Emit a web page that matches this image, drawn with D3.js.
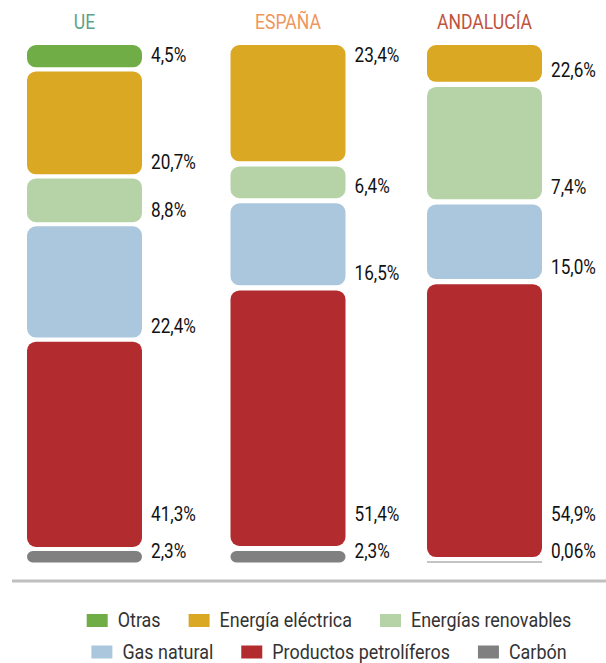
<!DOCTYPE html>
<html>
<head>
<meta charset="utf-8">
<script src="https://cdn.jsdelivr.net/npm/d3@7"></script>
<style>
  html, body { margin: 0; padding: 0; background: #fff; }
  svg { display: block; }
  text { font-family: Roboto, "Noto Sans", sans-serif; }
</style>
</head>
<body>
<svg id="chart" width="606" height="663"></svg>
<script>
// ---------- data ----------
const columns = ["UE", "ESPAÑA", "ANDALUCÍA"];
const sources = ["Otras", "Energía eléctrica", "Energías renovables", "Gas natural", "Productos petrolíferos", "Carbón"];
// drawn segment sizes (% of final energy consumption), top to bottom
const valuesUE = [4.5, 20.7, 8.8, 22.4, 41.3, 2.3];
const valuesES = [0, 23.4, 6.4, 16.5, 51.4, 2.3];
const valuesAN = [0, 7.4, 22.6, 15.0, 54.9, 0.06];
// labels as printed beside each segment
const labelsUE = ["4,5%", "20,7%", "8,8%", "22,4%", "41,3%", "2,3%"];
const labelsES = ["", "23,4%", "6,4%", "16,5%", "51,4%", "2,3%"];
const labelsAN = ["", "22,6%", "7,4%", "15,0%", "54,9%", "0,06%"];
const sourceColors = ["#70ad47", "#dba823", "#b6d3a8", "#abc7de", "#b22c2f", "#808080"];
const titleColors = ["#5ea28a", "#f0965c", "#c0533d"];
const legendRows = [[0, 1, 2], [3, 4, 5]];

const table = [valuesUE, valuesES, valuesAN];
const labelTable = [labelsUE, labelsES, labelsAN];

// ---------- layout ----------
const svg = d3.select("#chart");
const colX = d3.scaleOrdinal().domain(columns).range([27, 230.5, 427]);
const barW = 115;
const yTop = 45, yBottom = 562.5;
const hScale = d3.scaleLinear().domain([0, 100]).range([0, 497]);
const condensed = 0.88;

function ctext(g, x, y, str, opts) {
  const t = g.append("text")
    .attr("transform", `translate(${x},${y}) scale(${opts.scale || condensed},1)`)
    .attr("font-size", opts.size)
    .attr("fill", opts.fill)
    .attr("text-anchor", opts.anchor || "start")
    .text(str);
  return t;
}

columns.forEach((col, ci) => {
  const vals = table[ci];
  const labs = labelTable[ci];
  const items = sources.map((s, i) => ({ s, i, v: vals[i], lab: labs[i] })).filter(d => d.v > 0);
  const total = d3.sum(items, d => hScale(d.v));
  const gap = (yBottom - yTop - total) / (items.length - 1);
  let y = yTop;
  items.forEach(d => {
    d.y0 = y;
    d.h = hScale(d.v);
    d.y1 = y + d.h;
    y = d.y1 + gap;
  });
  const g = svg.append("g");
  const x0 = colX(col);

  // title
  ctext(g, x0 + barW / 2, 29, col, { size: 20, fill: titleColors[ci], anchor: "middle" });

  items.forEach(d => {
    if (d.h < 1.5) {
      g.append("rect").attr("x", x0).attr("y", yBottom - 1).attr("width", barW).attr("height", 1)
        .attr("fill", "#8a8a8a");
    } else {
      const r = Math.min(9, d.h / 2);
      g.append("rect").attr("x", x0).attr("y", d.y0).attr("width", barW).attr("height", d.h)
        .attr("rx", r).attr("ry", r).attr("fill", sourceColors[d.i]);
    }
  });

  // labels, placed bottom-up avoiding overlap
  let prev = Infinity;
  for (let k = items.length - 1; k >= 0; k--) {
    const d = items[k];
    let base;
    if (ci === 1 && d.i === 1) {
      base = d.y0 + 17; // printed at the top of the segment
    } else {
      base = Math.min(d.y1 - 5, prev - 37);
    }
    prev = base;
    ctext(g, x0 + barW + 9, base, d.lab, { size: 19.5, fill: "#111" });
  }
});

// separator
svg.append("line").attr("x1", 12).attr("x2", 606).attr("y1", 581).attr("y2", 581)
  .attr("stroke", "#bfbfbf").attr("stroke-width", 3);

// legend
const legScale = 0.92;
const rowBase = [627, 658.5];
legendRows.forEach((row, ri) => {
  const g = svg.append("g");
  const items = row.map(i => {
    const t = ctext(g, 0, rowBase[ri], sources[i], { size: 19.5, fill: "#333", scale: legScale });
    const w = t.node().getComputedTextLength() * legScale;
    return { i, t, w };
  });
  const swW = 21, swH = 13, txtOff = 31, itemGap = 28;
  const totalW = d3.sum(items, d => txtOff + d.w) + itemGap * (items.length - 1);
  let x = 329 - totalW / 2;
  items.forEach(d => {
    g.append("rect").attr("x", x).attr("y", rowBase[ri] - 13).attr("width", swW).attr("height", swH)
      .attr("fill", sourceColors[d.i]);
    d.t.attr("transform", `translate(${x + txtOff},${rowBase[ri]}) scale(${legScale},1)`);
    x += txtOff + d.w + itemGap;
  });
});
</script>
</body>
</html>
